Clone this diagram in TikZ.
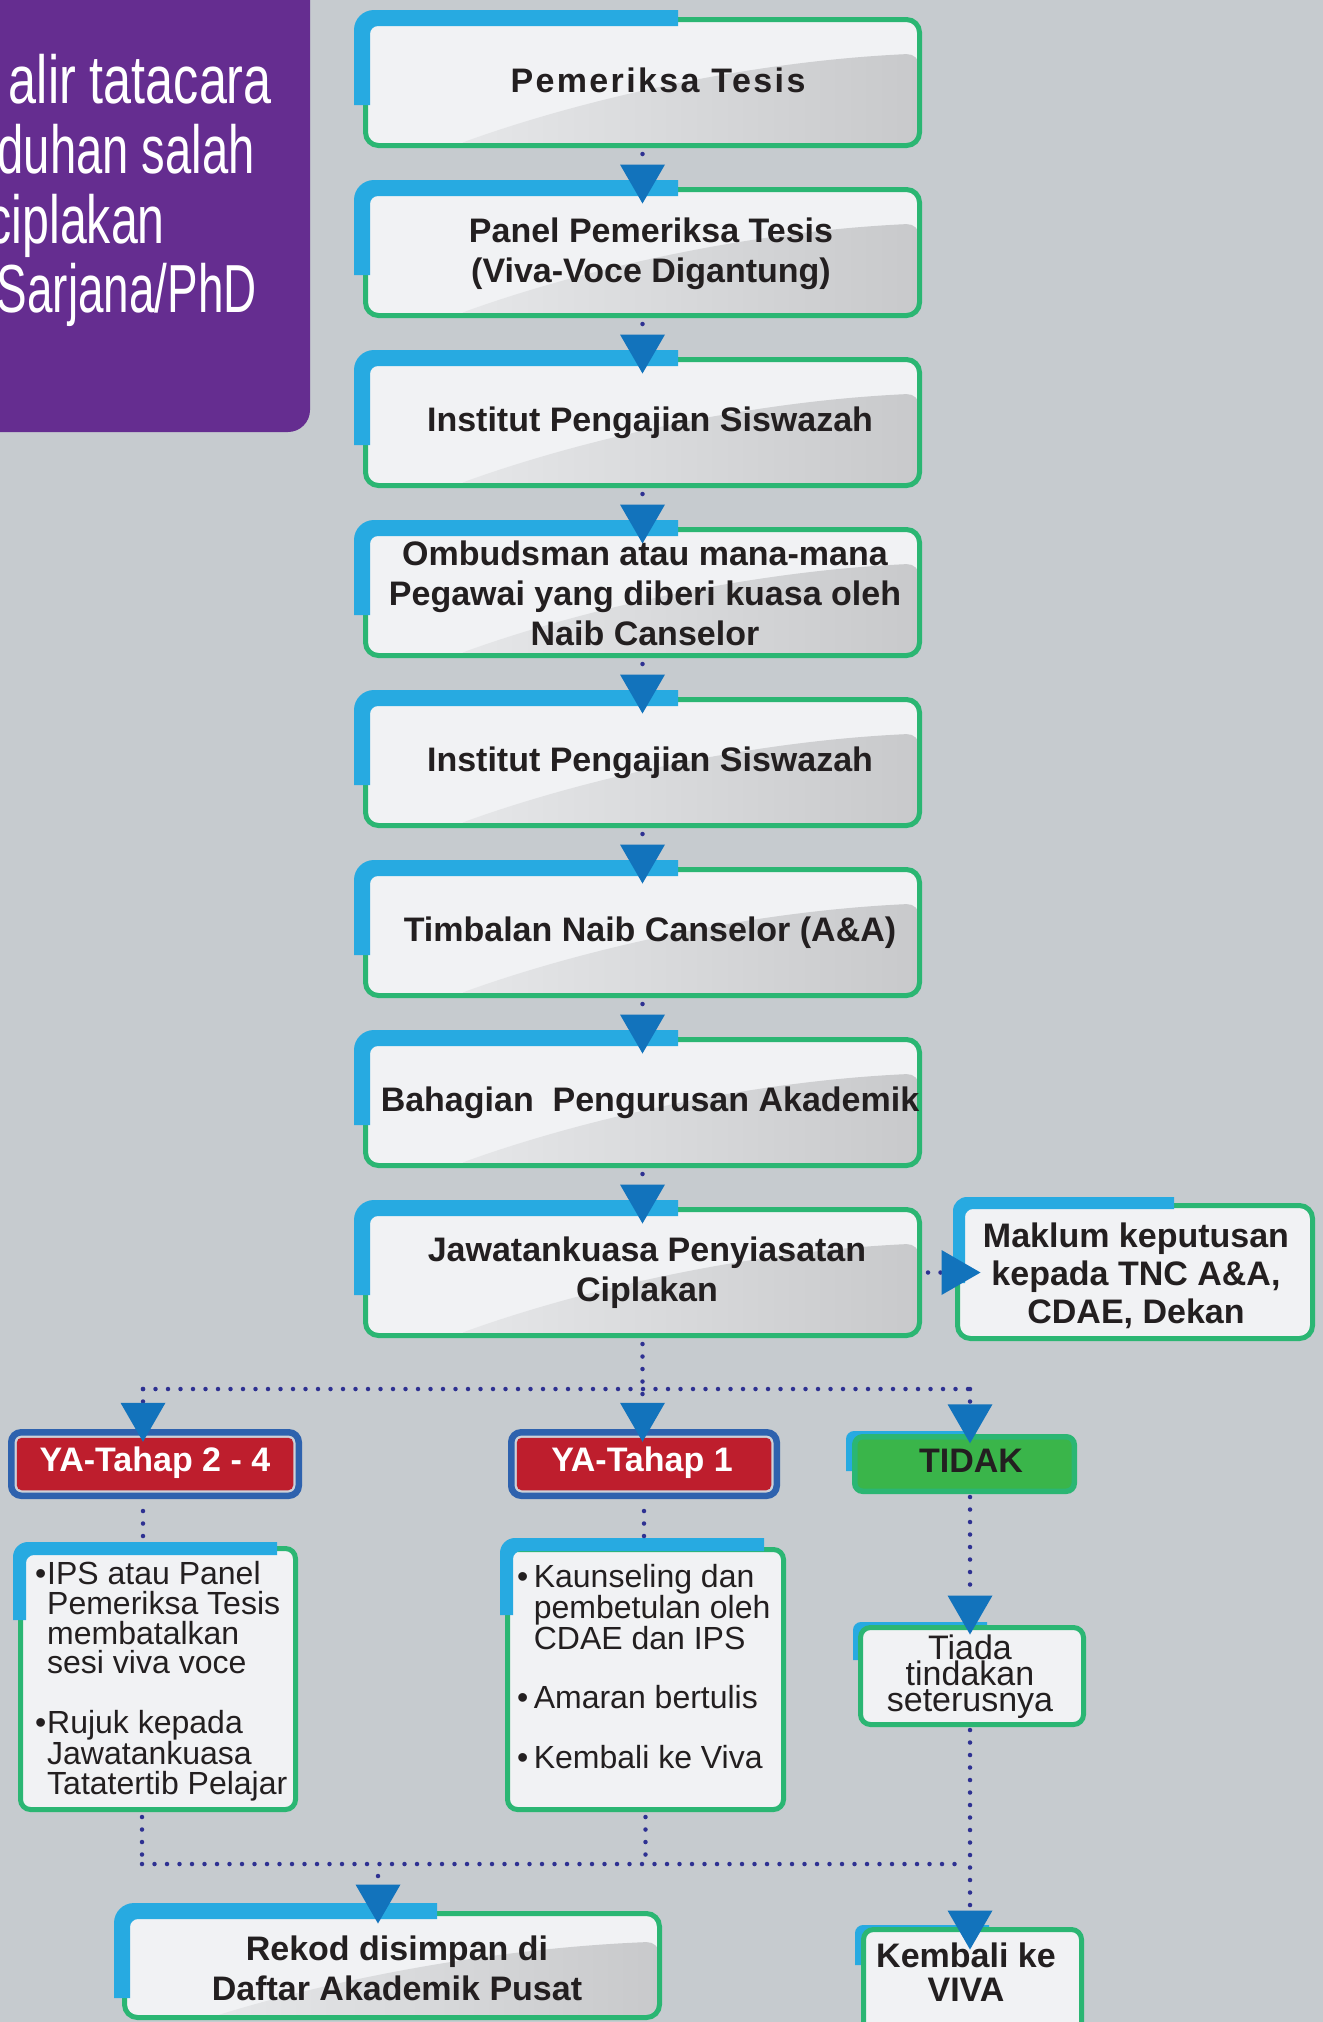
\documentclass[tikz,border=0pt]{standalone}
\usepackage{fontspec}
\setmainfont{Liberation Sans}
\newfontfamily\titlefontA[FakeStretch=0.74]{Liberation Sans}
\newfontfamily\titlefontB[FakeStretch=0.694]{Liberation Sans}
\newfontfamily\titlefontC[FakeStretch=0.71]{Liberation Sans}
\newfontfamily\titlefontD[FakeStretch=0.674]{Liberation Sans}
\usetikzlibrary{arrows.meta,calc}
\definecolor{bgc}{HTML}{C6CBCF}
\definecolor{titlepurple}{HTML}{652D90}
\definecolor{bandblue}{HTML}{27AAE1}
\definecolor{boxgreen}{HTML}{2BB673}
\definecolor{arrowblue}{HTML}{1273BC}
\definecolor{dotblue}{HTML}{2E3192}
\definecolor{boxfill}{HTML}{F1F2F4}
\definecolor{gradlight}{HTML}{ECEDEF}
\definecolor{graddark}{HTML}{C8C9CB}
\definecolor{yared}{HTML}{BE1E2D}
\definecolor{yablue}{HTML}{2E62AE}
\definecolor{gapcol}{HTML}{CDD1D8}
\definecolor{tidakfill}{HTML}{3AB54A}
\definecolor{textcol}{HTML}{231F20}
% blue L-shaped band: left, top, right end, bottom end, thickness, outer radius
\newcommand\bluel[6]{\fill[bandblue] (#1,#4) -- (#1,{#2+#6}) .. controls (#1,{#2+0.4477*#6}) and ({#1+0.4477*#6},#2) .. ({#1+#6},#2) -- (#3,#2) -- (#3,{#2+#5}) -- ({#1+#5+8},{#2+#5}) .. controls ({#1+#5+3.58},{#2+#5}) and ({#1+#5},{#2+#5+3.58}) .. ({#1+#5},{#2+#5+8}) -- ({#1+#5},#4) -- cycle;}
\tikzset{
  gbox/.style={draw=boxgreen, line width=5pt, rounded corners=13pt, fill=boxfill, inner sep=0pt},
  grad/.style={path picture={\fill[left color=gradlight, right color=graddark] let \p1=(path picture bounding box.south west), \p2=(path picture bounding box.north east), \n1={\x2-\x1}, \n2={\y2-\y1} in ({\x1+0.16*\n1},\y1) .. controls ({\x1+0.40*\n1},{\y2-0.62*\n2}) and ({\x1+0.70*\n1},{\y2-0.33*\n2}) .. (\x2,{\y2-0.27*\n2}) -- (\x2,\y1) -- cycle;}},
  mainbox/.style={gbox, grad, minimum width=554pt, minimum height=126pt},
  yabox/.style={draw=yablue, line width=6.5pt, rounded corners=10pt, fill=gapcol, inner sep=0pt, minimum height=63.5pt,
    path picture={\fill[yared, rounded corners=5pt] ($(path picture bounding box.south west)+(5.5pt,5.5pt)$) rectangle ($(path picture bounding box.north east)-(5.5pt,5.5pt)$);}},
  dotline/.style={draw=dotblue, line width=4.5pt, line cap=round, dash pattern=on 0pt off 12.5pt},
  conn/.style={dotline, -{Triangle[width=45pt, length=39pt, line width=0pt, color=arrowblue]}},
  btxt/.style={inner sep=0pt, text=textcol, align=center, font={\bfseries\fontsize{34}{40}\selectfont}},
  rtxt/.style={inner sep=0pt, text=textcol, align=left, anchor=north west, font={\fontsize{32}{29.8}\selectfont}},
  ttl/.style={anchor=base east, inner sep=0pt, text=white}
}
\begin{document}
\begin{tikzpicture}[x=1pt,y=-1pt]
\useasboundingbox (0,0) rectangle (1323,2022);
\fill[bgc] (0,0) rectangle (1323,2022);
% title panel
\fill[titlepurple, rounded corners=22pt] (-40,-40) rectangle (310,432);
\node[ttl, font={\titlefontA\fontsize{68}{70}\selectfont}] (ti1) at (272,103) {alir tatacara};
\node[ttl, font={\titlefontB\fontsize{68}{70}\selectfont}] (ti2) at (255,173) {duhan salah};
\node[ttl, font={\titlefontC\fontsize{68}{70}\selectfont}] (ti3) at (165,243) {ciplakan};
\node[ttl, font={\titlefontD\fontsize{68}{70}\selectfont}] (ti4) at (257,312) {Sarjana/PhD};
% main column
\node[mainbox] (b1) at (642.5,82.5) {};    \bluel{354}{10}{678}{105}{16}{20}
\node[mainbox] (b2) at (642.5,252.5) {};   \bluel{354}{180}{678}{275}{16}{20}
\node[mainbox] (b3) at (642.5,422.5) {};   \bluel{354}{350}{678}{445}{16}{20}
\node[mainbox] (b4) at (642.5,592.5) {};   \bluel{354}{520}{678}{615}{16}{20}
\node[mainbox] (b5) at (642.5,762.5) {};   \bluel{354}{690}{678}{785}{16}{20}
\node[mainbox] (b6) at (642.5,932.5) {};   \bluel{354}{860}{678}{955}{16}{20}
\node[mainbox] (b7) at (642.5,1102.5) {};  \bluel{354}{1030}{678}{1125}{16}{20}
\node[mainbox] (b8) at (642.5,1272.5) {};  \bluel{354}{1200}{678}{1295}{16}{20}
% side box
\node[gbox, minimum width=355pt, minimum height=133pt] (mk) at (1135,1272) {};
\bluel{953}{1197}{1174}{1283}{12}{14}
% decision boxes
\node[yabox, minimum width=287.5pt] (ya24) at (155,1464) {};
\node[yabox, minimum width=265.5pt] (ya1) at (644,1464) {};
\bluel{846}{1431}{975}{1471}{16}{8}
\node[gbox, fill=tidakfill, line width=5.5pt, rounded corners=8pt, minimum width=219.5pt, minimum height=54.5pt] (tidak) at (964.5,1464) {};
% result boxes
\node[gbox, rounded corners=10pt, minimum width=275pt, minimum height=261pt] (bl) at (158,1679) {};
\bluel{13}{1542}{277}{1620}{13}{15}
\node[gbox, rounded corners=10pt, minimum width=276pt, minimum height=260pt] (bm) at (645.5,1679.5) {};
\bluel{500}{1538}{764}{1615}{13}{15}
\bluel{853}{1622}{987}{1660}{16}{8}
\node[gbox, rounded corners=10pt, minimum width=223pt, minimum height=97pt] (tiada) at (972,1676) {};
\node[gbox, grad, minimum width=535pt, minimum height=104pt] (rek) at (392,1965.5) {};
\bluel{114}{1903}{437}{1998}{16}{20}
\bluel{855}{1925}{989}{1965}{16}{8}
\node[gbox, rounded corners=10pt, minimum width=218pt, minimum height=108pt] (kemb) at (972.5,1983.5) {};
% junction points
\coordinate (jl) at (143,1389);
\coordinate (jr) at (970,1389);
\coordinate (jbl) at (142,1864);
\coordinate (jbr) at (955,1864);
\coordinate (jrek) at (378,1864);
% connectors
\foreach \a/\b in {b1/b2,b2/b3,b3/b4,b4/b5,b5/b6,b6/b7,b7/b8}
  \draw[conn, shorten <=6pt, shorten >=-16.5pt] (\a.south) -- (\b.north);
\draw[conn, shorten <=6pt, shorten >=-25.5pt] (b8.east) -- (b8.east -| mk.west);
\draw[conn, shorten <=6pt, shorten >=-12.75pt] (b8.south) -- (ya1.north -| b8.south);
\draw[dotline] (jl) -- (jr);
\draw[conn, shorten >=-12.75pt] (jl) -- (ya24.north -| jl);
\draw[conn, shorten >=-9.25pt] (jr) -- (tidak.north -| jr);
\draw[dotline, shorten <=12pt, shorten >=6pt] (ya24.south -| jl) -- (bl.north -| jl);
\draw[dotline, shorten <=12pt, shorten >=6pt] (ya1.south) -- (bm.north -| ya1.south);
\draw[conn, shorten <=3pt, shorten >=-9.5pt] (tidak.south -| jr) -- (tiada.north -| jr);
\draw[conn, shorten <=3pt, shorten >=-22.5pt] (tiada.south -| jr) -- (kemb.north -| jr);
\draw[dotline, shorten <=5pt] (bl.south -| jbl) -- (jbl);
\draw[dotline, shorten <=5pt] (bm.south) -- (bm.south |- jbl);
\draw[dotline] (jbl) -- (jbr);
\draw[conn, shorten <=12pt, shorten >=-12.5pt] (jrek) -- (rek.north -| jrek);
% texts
\node[btxt, font={\bfseries\fontsize{34}{40}\selectfont\addfontfeature{LetterSpace=7}}] (t1) at (658,80) {Pemeriksa Tesis};
\node[btxt] (t2) at (651,253.5) {Panel Pemeriksa Tesis\\(Viva-Voce Digantung)};
\node[btxt] (t3) at (650,422.5) {Institut Pengajian Siswazah};
\node[btxt] (t4) at (645,593) {Ombudsman atau mana-mana\\Pegawai yang diberi kuasa oleh\\Naib Canselor};
\node[btxt] (t5) at (650,762.5) {Institut Pengajian Siswazah};
\node[btxt] (t6) at (650,932.5) {Timbalan Naib Canselor (A\&A)};
\node[btxt] (t7) at (650,1102.5) {Bahagian\ \ Pengurusan Akademik};
\node[btxt] (t8) at (647,1272.5) {Jawatankuasa Penyiasatan\\Ciplakan};
\node[btxt, font={\bfseries\fontsize{34}{38}\selectfont}] (tmk) at (1136,1276) {Maklum keputusan\\kepada TNC A\&A,\\CDAE, Dekan};
\node[btxt, text=white] (tya24) at (155,1463) {YA-Tahap 2 - 4};
\node[btxt, text=white] (tya1) at (642,1463) {YA-Tahap 1};
\node[btxt] (ttidak) at (971,1461) {TIDAK};
\node[btxt, font={\fontsize{34}{26}\selectfont}] (ttiada) at (970,1677) {Tiada\\tindakan\\seterusnya};
\node[btxt] (trek) at (397,1968) {Rekod disimpan di\\Daftar Akademik Pusat};
\node[btxt, font={\bfseries\fontsize{34}{34}\selectfont}] (tkemb) at (966,1972) {Kembali ke\\VIVA};
\node[rtxt] (tbl) at (35,1561) {\makebox[12pt][l]{•}IPS atau Panel\\\hspace*{12pt}Pemeriksa Tesis\\\hspace*{12pt}membatalkan\\\hspace*{12pt}sesi viva voce\\[30pt]\makebox[12pt][l]{•}Rujuk kepada\\\hspace*{12pt}Jawatankuasa\\\hspace*{12pt}Tatatertib Pelajar};
\node[rtxt] (tbm) at (517,1564) {\makebox[16.6pt][l]{•}Kaunseling dan\\\hspace*{16.6pt}pembetulan oleh\\\hspace*{16.6pt}CDAE dan IPS\\[30pt]\makebox[16.6pt][l]{•}Amaran bertulis\\[30pt]\makebox[16.6pt][l]{•}Kembali ke Viva};
\end{tikzpicture}
\end{document}
